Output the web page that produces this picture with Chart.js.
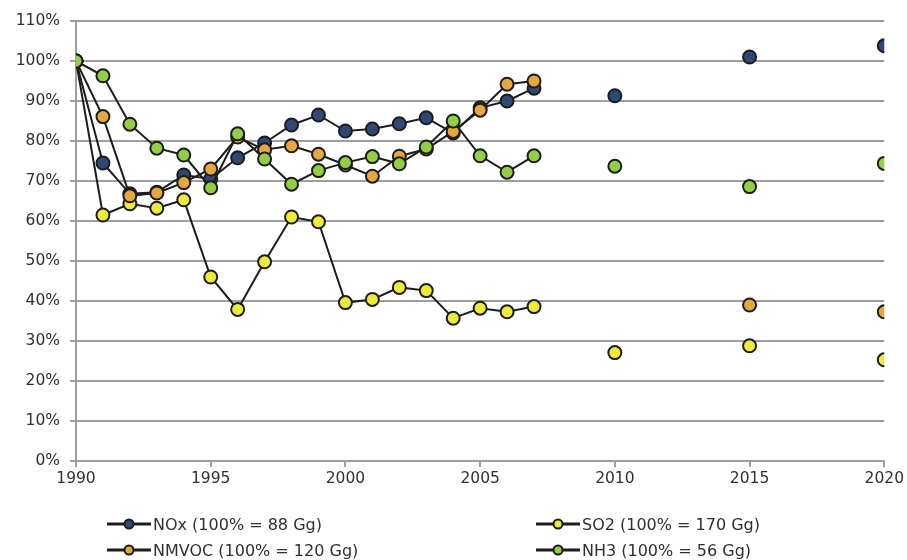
<!DOCTYPE html>
<html>
<head>
<meta charset="utf-8">
<script src="https://cdn.jsdelivr.net/npm/chart.js@4.4.1/dist/chart.umd.min.js"></script>
<style>
  html, body { margin: 0; padding: 0; background: #ffffff; }
  #wrap { position: relative; width: 907px; height: 560px; }
  #legend { position: absolute; left: 0; top: 0; width: 907px; height: 560px; pointer-events: none;
            font-family: "DejaVu Sans", sans-serif; font-size: 16px; color: #303030; }
  .item { position: absolute; display: flex; align-items: center; white-space: nowrap; }
  .item svg { margin-right: 2px; }
</style>
</head>
<body>
<div id="wrap">
  <canvas id="chart" width="907" height="560"></canvas>
  <div id="legend"></div>
</div>
<script>
// Emission index, 1990 = 100 %
const years = [1990, 1991, 1992, 1993, 1994, 1995, 1996, 1997, 1998, 1999,
               2000, 2001, 2002, 2003, 2004, 2005, 2006, 2007, 2010, 2015, 2020];

const noxValues   = [100, 74.5, 66.8, 67.2, 71.5, 70.5, 75.8, 79.5, 84.0, 86.5,
                     82.5, 83.0, 84.3, 85.8, 82.0, 88.3, 90.0, 93.2, 91.3, 101.0, 103.8];
const so2Values   = [100, 61.5, 64.3, 63.2, 65.3, 46.0, 37.9, 49.8, 61.0, 59.8,
                     39.6, 40.4, 43.4, 42.6, 35.7, 38.2, 37.3, 38.6, 27.1, 28.8, 25.3];
const nmvocValues = [100, 86.1, 66.3, 67.0, 69.6, 73.0, 81.0, 77.8, 78.8, 76.7,
                     74.0, 71.2, 76.2, 78.0, 82.4, 87.7, 94.2, 95.0, null, 39.0, 37.3];
const nh3Values   = [100, 96.3, 84.2, 78.2, 76.5, 68.3, 81.8, 75.5, 69.2, 72.6,
                     74.6, 76.1, 74.3, 78.5, 85.0, 76.3, 72.2, 76.3, 73.7, 68.6, 74.4];

const seriesNames = ['NOx (100% = 88 Gg)', 'SO2 (100% = 170 Gg)',
                     'NMVOC (100% = 120 Gg)', 'NH3 (100% = 56 Gg)'];

const yTickValues = [0, 10, 20, 30, 40, 50, 60, 70, 80, 90, 100, 110];
const xTickValues = [1990, 1995, 2000, 2005, 2010, 2015, 2020];

const LINE = '#1c1c1c';
const GRID = '#9e9e9e';
const FILLS = ['#2f4876', '#eeea3a', '#e6a83c', '#93cf45'];

function pts(vals) {
  return years.map((yr, i) => ({ x: yr, y: vals[i] }));
}

// projections (2010, 2015, 2020) are shown as markers only
function segColor(ctx) {
  return (ctx.p1.parsed.x - ctx.p0.parsed.x > 1) ? 'rgba(0,0,0,0)' : LINE;
}

function ds(label, vals, fill, order) {
  return {
    label: label,
    data: pts(vals),
    order: order,
    borderColor: LINE,
    borderWidth: 2,
    backgroundColor: fill,
    pointBackgroundColor: fill,
    pointBorderColor: LINE,
    pointBorderWidth: 2,
    pointRadius: 6.5,
    pointHoverRadius: 6.5,
    tension: 0,
    spanGaps: false,
    segment: { borderColor: segColor }
  };
}

const datasets = [
  ds(seriesNames[0], noxValues, FILLS[0], 3),
  ds(seriesNames[1], so2Values, FILLS[1], 2),
  ds(seriesNames[2], nmvocValues, FILLS[2], 1),
  ds(seriesNames[3], nh3Values, FILLS[3], 0)
];

const tickFont = { family: '"DejaVu Sans", sans-serif', size: 15.5 };

new Chart(document.getElementById('chart'), {
  type: 'line',
  data: { datasets: datasets },
  options: {
    responsive: false,
    animation: false,
    events: [],
    layout: { padding: { left: 0, right: 21, top: 21, bottom: 0 } },
    plugins: { legend: { display: false }, tooltip: { enabled: false } },
    scales: {
      x: {
        type: 'linear',
        min: 1990, max: 2020,
        afterFit: s => { s.height = 99; },
        afterBuildTicks: s => { s.ticks = xTickValues.map(v => ({ value: v })); },
        ticks: {
          color: '#303030', font: tickFont, padding: 3, maxRotation: 0,
          callback: v => String(v)
        },
        grid: { drawOnChartArea: false, drawTicks: true, tickLength: 6, color: GRID, lineWidth: 2 },
        border: { display: true, color: GRID, width: 2 }
      },
      y: {
        min: 0, max: 110,
        afterFit: s => { s.width = 76; },
        afterBuildTicks: s => { s.ticks = yTickValues.map(v => ({ value: v })); },
        ticks: {
          color: '#303030', font: tickFont, padding: 10,
          callback: v => v + '%'
        },
        grid: { color: GRID, lineWidth: 2, tickLength: 6 },
        border: { display: true, color: GRID, width: 2 }
      }
    }
  }
});

// legend: two columns, two rows
const legendPos = [
  { left: 107, top: 524 }, { left: 536, top: 524 },
  { left: 107, top: 550 }, { left: 536, top: 550 }
];
const legendEl = document.getElementById('legend');
seriesNames.forEach((name, idx) => {
  const p = legendPos[idx];
  const item = document.createElement('div');
  item.className = 'item';
  item.style.left = p.left + 'px';
  item.style.top = (p.top - 10) + 'px';
  item.style.height = '20px';
  item.innerHTML =
    '<svg width="44" height="14" viewBox="0 0 44 14">' +
    '<line x1="0" y1="7" x2="44" y2="7" stroke="' + LINE + '" stroke-width="3"/>' +
    '<circle cx="22" cy="7" r="4.5" fill="' + FILLS[idx] + '" stroke="' + LINE + '" stroke-width="2"/>' +
    '</svg><span>' + name + '</span>';
  legendEl.appendChild(item);
});
</script>
</body>
</html>
